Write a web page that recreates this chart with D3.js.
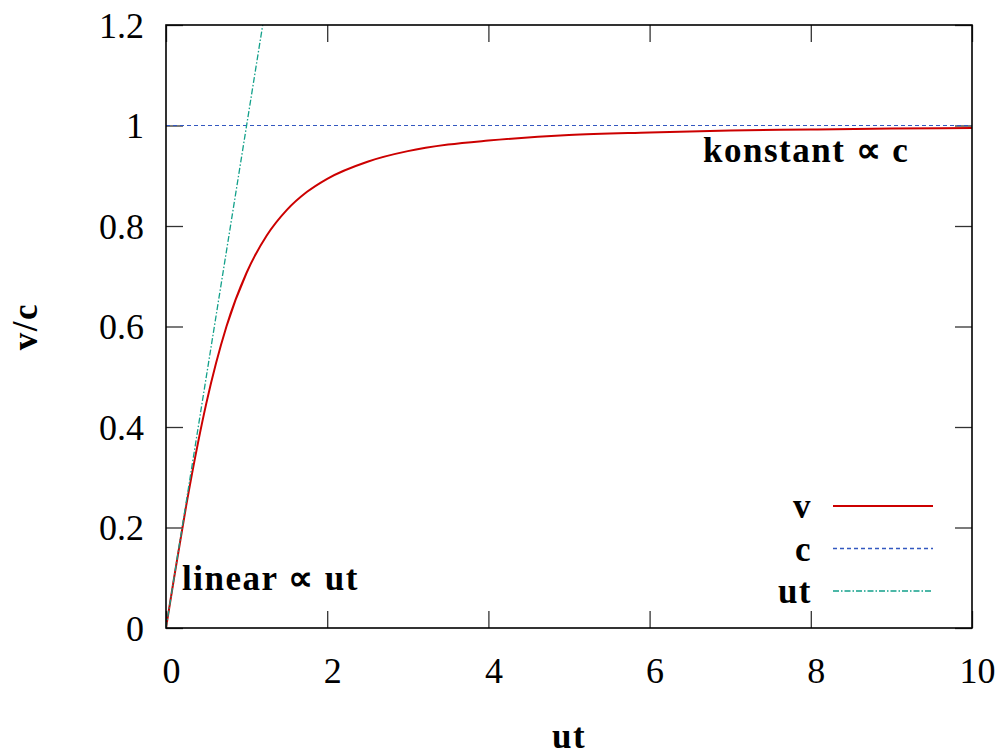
<!DOCTYPE html>
<html>
<head>
<meta charset="utf-8">
<script src="https://cdn.jsdelivr.net/npm/d3@7"></script>
<style>
  body { margin: 0; background: #fff; }
  .lbl { font-family: "Liberation Serif", serif; font-weight: bold; letter-spacing: 1.5px; }
</style>
</head>
<body>
<div id="chart"></div>
<script>
// values
var utValues = [0, 0.1, 0.25, 0.4, 0.5, 0.75, 1, 1.25, 1.5, 1.75, 2, 2.5, 3, 3.5, 4, 5, 6, 7, 8, 9, 10];
var vValues  = [0, 0.0995, 0.243, 0.371, 0.447, 0.6, 0.707, 0.781, 0.832, 0.868, 0.894, 0.928, 0.949, 0.962, 0.970, 0.981, 0.986, 0.990, 0.992, 0.994, 0.995];
var cX = [0, 10];
var cY = [1, 1];
var linX = [0, 1.2];
var linY = [0, 1.2];
var xTicks = [0, 2, 4, 6, 8, 10];
var yTicks = [0, 0.2, 0.4, 0.6, 0.8, 1, 1.2];
var seriesNames = ["v", "c", "ut"];

var svgWidth = 1006;
var svgHeight = 755;
var margin = { top: 25, right: 34, bottom: 127, left: 166 };
var width = svgWidth - margin.left - margin.right;
var height = svgHeight - margin.top - margin.bottom;

var svg = d3.select("#chart")
  .append("svg")
  .attr("width", svgWidth)
  .attr("height", svgHeight);

var chartGroup = svg.append("g")
  .attr("transform", `translate(${margin.left}, ${margin.top})`);

var x = d3.scaleLinear().domain([0, 10]).range([0, width]);
var y = d3.scaleLinear().domain([0, 1.2]).range([height, 0]);

var tickLen = 17;
var fmt = d => d3.format("~g")(d);

// axes (ticks pointing inward, mirrored)
var bottomAxis = d3.axisBottom(x).tickValues(xTicks).tickSize(-tickLen).tickPadding(0).tickFormat(fmt);
var leftAxis = d3.axisLeft(y).tickValues(yTicks).tickSize(-tickLen).tickPadding(0).tickFormat(fmt);

var gx = chartGroup.append("g").attr("transform", `translate(0, ${height})`).call(bottomAxis);
gx.selectAll("text").attr("y", 0).attr("dy", 55).attr("dx", 5).attr("font-size", 36).attr("fill", "#000");

var gy = chartGroup.append("g").call(leftAxis);
gy.selectAll("text").attr("x", -22).attr("dy", 12).attr("font-size", 36).attr("fill", "#000");

chartGroup.append("g")
  .call(d3.axisTop(x).tickValues(xTicks).tickSize(-tickLen).tickFormat(""));
chartGroup.append("g").attr("transform", `translate(${width}, 0)`)
  .call(d3.axisRight(y).tickValues(yTicks).tickSize(-tickLen).tickFormat(""));

chartGroup.selectAll(".domain").remove();
chartGroup.selectAll(".tick line").attr("stroke", "#333").attr("stroke-width", 1.3);
svg.selectAll("text").attr("font-family", "Liberation Serif, serif");

// clip
svg.append("clipPath").attr("id", "clip")
  .append("rect").attr("width", width).attr("height", height);

var plot = chartGroup.append("g").attr("clip-path", "url(#clip)");

var line = d3.line().x(d => x(d[0])).y(d => y(d[1]));

var colors = { v: "#cc0000", c: "#3358c0", ut: "#12a08a" };

plot.append("path")
  .datum(d3.zip(cX, cY))
  .attr("d", line)
  .attr("fill", "none")
  .attr("stroke", colors.c)
  .attr("stroke-width", 1.2)
  .attr("stroke-dasharray", "4,3");

plot.append("path")
  .datum(d3.zip(utValues, vValues))
  .attr("d", d3.line().x(d => x(d[0])).y(d => y(d[1])).curve(d3.curveMonotoneX))
  .attr("fill", "none")
  .attr("stroke", colors.v)
  .attr("stroke-width", 2);

plot.append("path")
  .datum(d3.zip(linX, linY))
  .attr("d", line)
  .attr("fill", "none")
  .attr("stroke", colors.ut)
  .attr("stroke-width", 1.3)
  .attr("stroke-dasharray", "6,2,1.5,2");

// frame
chartGroup.append("rect")
  .attr("width", width)
  .attr("height", height)
  .attr("fill", "none")
  .attr("stroke", "#000")
  .attr("stroke-width", 1.6);

// legend
var legend = chartGroup.selectAll(".legend")
  .data(seriesNames)
  .enter()
  .append("g")
  .attr("transform", (d, i) => `translate(0, ${481 + i * 42.5})`);

legend.append("text")
  .attr("class", "lbl")
  .attr("x", 646)
  .attr("y", 12)
  .attr("text-anchor", "end")
  .attr("font-size", 35)
  .text(d => d);

legend.append("line")
  .attr("x1", 667)
  .attr("x2", 767)
  .attr("stroke", d => colors[d])
  .attr("stroke-width", d => d === "v" ? 2 : 1.4)
  .attr("stroke-dasharray", d => d === "c" ? "4,3" : d === "ut" ? "6,2,1.5,2" : null);

// annotations
chartGroup.append("text")
  .attr("class", "lbl")
  .attr("x", 537)
  .attr("y", 137)
  .attr("font-size", 35)
  .text("konstant \u221d c");

chartGroup.append("text")
  .attr("class", "lbl")
  .attr("x", 16)
  .attr("y", 565)
  .attr("font-size", 35)
  .text("linear \u221d ut");

// axis titles
svg.append("text")
  .attr("class", "lbl")
  .attr("x", margin.left + width / 2)
  .attr("y", 748)
  .attr("text-anchor", "middle")
  .attr("font-size", 35)
  .text("ut");

svg.append("text")
  .attr("class", "lbl")
  .attr("transform", `translate(37, ${margin.top + height / 2}) rotate(-90)`)
  .attr("text-anchor", "middle")
  .attr("font-size", 35)
  .text("v/c");
</script>
</body>
</html>
